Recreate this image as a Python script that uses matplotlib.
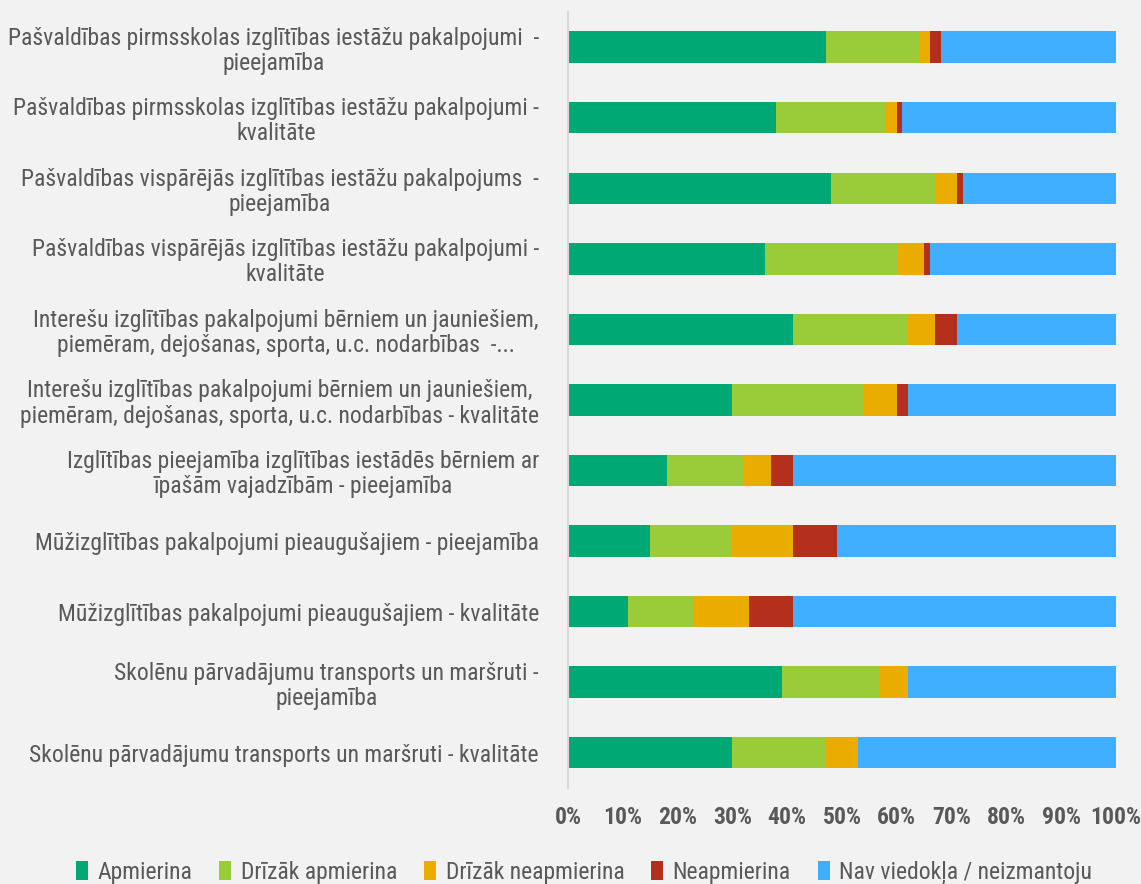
import numpy as np
import matplotlib
matplotlib.use('Agg')
import matplotlib.pyplot as plt
from matplotlib import font_manager

categories = [
    "Pašvaldības pirmsskolas izglītības iestāžu pakalpojumi  -\npieejamība",
    "Pašvaldības pirmsskolas izglītības iestāžu pakalpojumi -\nkvalitāte",
    "Pašvaldības vispārējās izglītības iestāžu pakalpojums  -\npieejamība",
    "Pašvaldības vispārējās izglītības iestāžu pakalpojumi -\nkvalitāte",
    "Interešu izglītības pakalpojumi bērniem un jauniešiem,\npiemēram, dejošanas, sporta, u.c. nodarbības  -...",
    "Interešu izglītības pakalpojumi bērniem un jauniešiem,\npiemēram, dejošanas, sporta, u.c. nodarbības - kvalitāte",
    "Izglītības pieejamība izglītības iestādēs bērniem ar\nīpašām vajadzībām - pieejamība",
    "Mūžizglītības pakalpojumi pieaugušajiem - pieejamība",
    "Mūžizglītības pakalpojumi pieaugušajiem - kvalitāte",
    "Skolēnu pārvadājumu transports un maršruti -\npieejamība",
    "Skolēnu pārvadājumu transports un maršruti - kvalitāte",
]

series_names = ["Apmierina", "Drīzāk apmierina", "Drīzāk neapmierina",
                "Neapmierina", "Nav viedokļa / neizmantoju"]
colors = ["#00a874", "#9acb38", "#ebac00", "#b5301c", "#41afff"]

apmierina     = [47, 38, 48, 36, 41, 30, 18, 15, 11, 39, 30]
drizak_apm    = [17, 20, 19, 24, 21, 24, 14, 15, 12, 18, 17]
drizak_neapm  = [2, 2, 4, 5, 5, 6, 5, 11, 10, 5, 6]
neapmierina   = [2, 1, 1, 1, 4, 2, 4, 8, 8, 0, 0]
nav_viedokla  = [32, 39, 28, 34, 29, 38, 59, 51, 59, 38, 47]

values = [apmierina, drizak_apm, drizak_neapm, neapmierina, nav_viedokla]

# pick a narrow font if one is around
installed = {f.name for f in font_manager.fontManager.ttflist}
narrow = sorted(n for n in installed if 'Narrow' in n or 'Condensed' in n)
candidates = ["Liberation Sans Narrow", "Roboto Condensed", "Open Sans Condensed",
              "Noto Sans Condensed", "DejaVu Sans Condensed"] + narrow + ["Lato", "DejaVu Sans"]
fam = next(c for c in candidates if c in installed)
plt.rcParams['font.family'] = [fam, 'DejaVu Sans']

bg = "#f2f2f2"
txt = "#595959"

fig = plt.figure(figsize=(11.41, 8.84), dpi=100, facecolor=bg)

# size the labels so the widest line is ~540 px like the reference
r = fig.canvas.get_renderer()
probe = fig.text(0, 0, "Pašvaldības pirmsskolas izglītības iestāžu pakalpojumi  -", fontsize=10)
fs = 10 * 538 / probe.get_window_extent(r).width
probe.remove()
fs = min(fs, 17)

ax = fig.add_axes([0.4978, 0.1086, 0.4803, 0.878], facecolor=bg)

y = np.arange(len(categories))
left = np.zeros(len(categories))
for name, vals, c in zip(series_names, values, colors):
    v = np.array(vals) / 100.0
    ax.barh(y, v, left=left, height=0.445, color=c, label=name, edgecolor='none')
    left += v

ax.set_ylim(len(categories) - 0.5, -0.5)
ax.set_xlim(0, 1)
ax.set_yticks(y)
ax.set_yticklabels(categories, fontsize=fs, color=txt, multialignment='center',
                   linespacing=1.12)
ax.set_xticks(np.linspace(0, 1, 11))
ax.set_xticklabels([f"{int(t)}%" for t in np.linspace(0, 100, 11)],
                   fontsize=fs, color=txt, fontweight='semibold')
ax.tick_params(axis='both', length=0)
ax.tick_params(axis='y', pad=21)
ax.tick_params(axis='x', pad=13)
for s in ['top', 'right', 'bottom']:
    ax.spines[s].set_visible(False)
ax.spines['left'].set_color('#d9d9d9')
ax.spines['left'].set_linewidth(1.5)

fig.legend(loc='center', bbox_to_anchor=(0.512, 0.013), ncol=5, frameon=False,
           fontsize=fs, labelcolor=txt, handlelength=0.5, handleheight=0.9,
           handletextpad=0.4, columnspacing=1.15)

plt.savefig("out.png", dpi=100, facecolor=bg)
